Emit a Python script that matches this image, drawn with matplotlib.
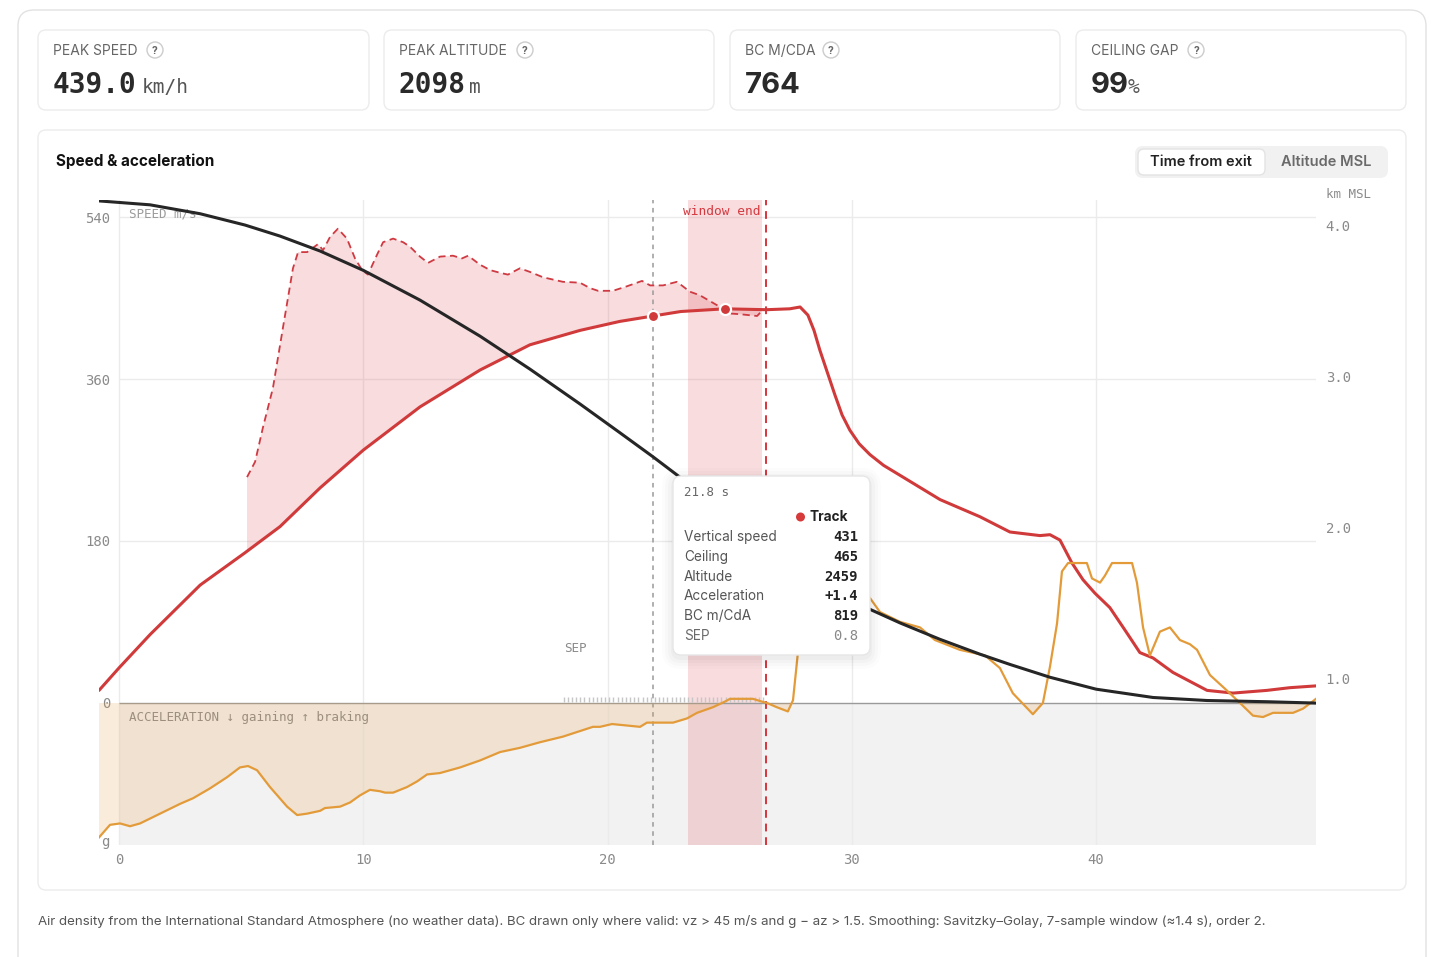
import matplotlib.pyplot as plt
import numpy as np
from matplotlib.patches import FancyBboxPatch, Circle

plt.rcParams['font.family'] = ['Inter', 'DejaVu Sans']
MONO = ['DejaVu Sans Mono']

# ---- data (time from exit in s) ----
speed_t = [-0.82, 0.0, 1.27, 3.32, 5.16, 6.59, 8.23, 10.0, 12.32, 14.78, 16.82, 18.87, 20.5,
           21.86, 23.0, 24.8, 26.5, 27.46, 27.88, 28.2, 28.45, 28.69, 29.0, 29.31, 29.6,
           29.92, 30.3, 30.74, 31.3, 31.97, 33.61, 35.24, 36.47, 37.7, 38.11, 38.52, 39.0,
           39.46, 39.95, 40.56, 41.18, 41.79, 42.33, 43.14, 44.54, 45.6, 46.99, 47.93, 49.0]
speed_kmh = [14, 39, 76, 131, 167, 196, 239, 281, 329, 370, 398, 414, 424,
             430, 435, 438, 437, 438, 440, 431, 414, 392, 367, 342, 320,
             303, 288, 276, 264, 253, 226, 207, 190, 186, 187, 181, 156,
             137, 122, 106, 81, 56, 50, 34, 14, 11, 14, 17, 19]

ceil_t = [5.24, 5.57, 5.89, 6.30, 6.71, 7.12, 7.33, 7.70, 8.15, 8.35, 8.64, 8.96, 9.33,
          9.66, 9.95, 10.19, 10.56, 10.81, 11.22, 11.63, 11.91, 12.32, 12.65, 13.14, 13.67,
          14.04, 14.29, 14.78, 15.19, 15.60, 15.92, 16.41, 16.82, 17.36, 18.17, 18.87, 19.28,
          19.61, 20.22, 20.79, 21.41, 21.74, 22.27, 22.84, 23.37, 23.78, 24.48, 24.89, 25.42,
          26.12, 26.36]
ceil_kmh = [251, 268, 306, 350, 417, 483, 501, 501, 510, 503, 518, 527, 516,
            494, 481, 476, 498, 512, 516, 512, 507, 496, 489, 496, 497,
            494, 497, 487, 481, 478, 476, 483, 479, 473, 468, 467, 461,
            458, 458, 463, 469, 464, 464, 468, 457, 453, 442, 433, 432,
            430, 437]

alt_t = [-0.82, 1.27, 3.32, 5.16, 6.59, 8.23, 10.0, 12.32, 14.78, 16.82, 18.87, 20.5,
         21.86, 22.88, 25.0, 27.0, 27.88, 28.69, 29.92, 30.74, 31.97, 33.61, 35.24, 36.47,
         38.11, 40.0, 42.33, 44.54, 46.99, 49.0]
alt_km = [4.16, 4.134, 4.075, 4.0, 3.927, 3.828, 3.70, 3.503, 3.264, 3.046, 2.815, 2.625,
          2.465, 2.34, 2.083, 1.84, 1.733, 1.639, 1.521, 1.455, 1.365, 1.256, 1.158, 1.09,
          1.005, 0.926, 0.871, 0.851, 0.843, 0.834]

acc_t = [-0.82, -0.37, 0.04, 0.45, 0.86, 1.68, 2.5, 3.03, 3.72, 4.42, 4.95, 5.28, 5.65,
         6.18, 6.88, 7.29, 7.7, 8.23, 8.43, 9.05, 9.46, 9.86, 10.27, 10.68, 10.89, 11.22,
         11.79, 12.2, 12.61, 13.14, 13.96, 14.78, 15.6, 16.41, 17.23, 18.17, 19.4, 19.69,
         20.18, 21.33, 21.61, 22.68, 23.25, 23.66, 24.31, 24.8, 25.01, 25.95, 26.32, 26.53,
         26.93, 27.38, 27.59, 27.75, 27.88, 28.3, 28.6, 29.5, 30.2, 30.74, 31.15, 31.97,
         32.79, 33.4, 34.42, 35.45, 36.06, 36.59, 37.41, 37.82, 38.11, 38.4, 38.6, 38.85,
         39.62, 39.83, 40.16, 40.36, 40.65, 41.47, 41.67, 41.92, 42.2, 42.61, 43.02, 43.43,
         43.84, 44.13, 44.66, 45.35, 45.89, 46.42, 46.83, 47.24, 48.06, 48.47, 49.0]
acc_g = [-0.96, -0.87, -0.86, -0.88, -0.86, -0.79, -0.72, -0.68, -0.61, -0.53, -0.46, -0.45, -0.48,
         -0.6, -0.74, -0.8, -0.79, -0.77, -0.75, -0.74, -0.71, -0.66, -0.62, -0.63, -0.64, -0.64,
         -0.6, -0.56, -0.51, -0.5, -0.46, -0.41, -0.35, -0.32, -0.28, -0.24, -0.17, -0.17,
         -0.15, -0.17, -0.14, -0.14, -0.11, -0.07, -0.03, 0.01, 0.03, 0.03, 0.01, 0.0,
         -0.03, -0.06, 0.02, 0.29, 0.52, 0.9, 1.0, 1.0, 0.85, 0.75, 0.65, 0.58,
         0.54, 0.45, 0.38, 0.34, 0.25, 0.07, -0.08, 0.0, 0.26, 0.57, 0.94, 1.0,
         1.0, 0.89, 0.86, 0.91, 1.0, 1.0, 0.86, 0.54, 0.34, 0.51, 0.54, 0.45,
         0.42, 0.38, 0.2, 0.09, 0.0, -0.09, -0.1, -0.07, -0.07, -0.04, 0.03]

cursor_t = 21.86
window = (23.29, 26.32)
window_end = 26.48
sep_span = (18.2, 26.4)
marker_t = [21.86, 24.8]
marker_kmh = [430, 438]

cards = [("PEAK SPEED", "439.0", "km/h"), ("PEAK ALTITUDE", "2098", "m"),
         ("BC M/CDA", "764", ""), ("CEILING GAP", "99", "%")]
tooltip_rows = [("Vertical speed", "431"), ("Ceiling", "465"), ("Altitude", "2459"),
                ("Acceleration", "+1.4"), ("BC m/CdA", "819"), ("SEP", "0.8")]

W, H = 1440, 957
fig = plt.figure(figsize=(14.4, 9.57), dpi=100)


def px_axes(z):
    a = fig.add_axes([0, 0, 1, 1], zorder=z)
    a.set_xlim(0, W)
    a.set_ylim(H, 0)
    a.axis('off')
    a.patch.set_alpha(0)
    return a


def rbox(a, x0, y0, x1, y1, r, fc='white', ec='#e8e8e8', lw=1.0, z=1, alpha=1.0):
    a.add_patch(FancyBboxPatch((x0, y0), x1 - x0, y1 - y0,
                               boxstyle=f"round,pad=0,rounding_size={r}",
                               fc=fc, ec=ec, lw=lw, zorder=z, alpha=alpha))


bg = px_axes(0)
rbox(bg, 18, 10, 1426, 1000, 16, ec='#e2e2e2')

# stat cards
card_x = [(38, 369), (384, 714), (730, 1060), (1076, 1406)]
q_x = [155, 525, 831, 1196]
unit_x = [142, 469, None, 1128]
for (x0, x1), qx, ux, (lab, val, unit) in zip(card_x, q_x, unit_x, cards):
    rbox(bg, x0, 30, x1, 110, 8, ec='#ececec')
    bg.text(x0 + 15, 51, lab, fontsize=10, color='#666666', va='center', ha='left')
    bg.add_patch(Circle((qx, 50), 8, fc='white', ec='#cccccc', lw=1, zorder=2))
    bg.text(qx, 50.5, "?", fontsize=7.5, color='#666666', ha='center', va='center',
            fontweight='bold', zorder=3)
    mono = val not in ("764", "99")
    bg.text(x0 + 15, 93, val, fontsize=20 if mono else 21, fontweight='bold', color='#2a2a2a',
            family=MONO if mono else None, va='baseline', ha='left')
    if unit:
        bg.text(ux, 93, unit, fontsize=14, color='#555555', family=MONO,
                va='baseline', ha='left')

# chart card
rbox(bg, 38, 130, 1406, 890, 8, ec='#ececec')
bg.text(56, 161, "Speed & acceleration", fontsize=11, fontweight='bold', color='#111111',
        va='center', ha='left')
rbox(bg, 1135, 146, 1388, 178, 8, fc='#f1f1f1', ec='none')
rbox(bg, 1138, 149, 1265, 175, 6, fc='white', ec='#e3e3e3')
bg.text(1201, 161.5, "Time from exit", fontsize=10.5, fontweight='semibold', color='#222222',
        ha='center', va='center')
bg.text(1326, 161.5, "Altitude MSL", fontsize=10.5, fontweight='semibold', color='#6a6a6a',
        ha='center', va='center')
bg.text(1326, 194, "km MSL", fontsize=9, color='#8a8a8a', family=MONO, ha='left', va='center')
bg.text(38, 921, "Air density from the International Standard Atmosphere (no weather data). "
        "BC drawn only where valid: vz > 45 m/s and g \u2212 az > 1.5. Smoothing: "
        "Savitzky\u2013Golay, 7-sample window (\u22481.4 s), order 2.",
        fontsize=9.57, color='#555555', ha='left', va='center')

# ---- main chart ----
x_lo, x_hi = -0.82, 49.0
spd_lo, spd_hi = -157.8, 558.9
ax = fig.add_axes([99 / W, 112 / H, (1316 - 99) / W, (845 - 200) / H], zorder=2)
ax.patch.set_alpha(0)
ax.set_xlim(x_lo, x_hi)
ax.set_ylim(spd_lo, spd_hi)
for s in ax.spines.values():
    s.set_visible(False)

ax.fill_between([0, x_hi], spd_lo, 0, color='#f2f2f2', lw=0, zorder=0)
for xv in [0, 10, 20, 30, 40]:
    ax.axvline(xv, color='#ebebeb', lw=1, zorder=0.5)
ax.hlines([180, 360, 540], 0, x_hi, color='#ebebeb', lw=1, zorder=0.5)
ax.hlines(0, 0, x_hi, color='#9a9a9a', lw=1, zorder=1.5)
ax.axvspan(*window, color='#dc505a', alpha=0.2, lw=0, zorder=1)
ax.axvline(cursor_t, color='#9a9a9a', lw=1.1, ls=(0, (3, 3)), zorder=3)
ax.axvline(window_end, color='#d8343c', lw=1.4, ls=(0, (4, 3)), zorder=3)
ax.text(window[1] - 0.05, 546, "window end", color='#d33a40', family=MONO, fontsize=9.3,
        ha='right', va='center')

# ceiling fill polygon between ceiling and speed
st = np.array(speed_t)
sv = np.array(speed_kmh)
inside = (st > ceil_t[0]) & (st < ceil_t[-1])
poly_t = np.r_[ceil_t, ceil_t[-1], st[inside][::-1], ceil_t[0]]
poly_v = np.r_[ceil_kmh, np.interp(ceil_t[-1], st, sv), sv[inside][::-1],
               np.interp(ceil_t[0], st, sv)]
ax.fill(poly_t, poly_v, color='#dc505a', alpha=0.2, lw=0, zorder=1)
ax.plot(ceil_t, ceil_kmh, color='#cf3a42', lw=1.3, ls=(0, (4, 2.5)), zorder=4)
ax.plot(speed_t, speed_kmh, color='#d03a3a', lw=2.2, zorder=4, solid_capstyle='round',
        solid_joinstyle='round')
ax.plot(marker_t, marker_kmh, 'o', ms=8, mfc='#d03a3a', mec='white', mew=1.6, zorder=6)

sep_x = np.arange(sep_span[0], sep_span[1], 0.17)
ax.vlines(sep_x, 0.8, 6.5, color='#c6c6c6', lw=1, zorder=2)
ax.text(18.67, 60, "SEP", color='#8a8a8a', family=MONO, fontsize=9, ha='center', va='center')
ax.text(0.41, 543, "SPEED m/s", color='#9a9a9a', family=MONO, fontsize=9, ha='left', va='center')
ax.text(0.41, -16, "ACCELERATION \u2193 gaining \u2191 braking", color='#8a8a8a', family=MONO,
        fontsize=9, ha='left', va='center', zorder=6)
ax.text(-0.57, -154, "g", color='#8a8a8a', family=MONO, fontsize=10, ha='center', va='center')

ax.set_xticks([0, 10, 20, 30, 40])
ax.set_xticklabels(['0', '10', '20', '30', '40'], family=MONO, fontsize=10, color='#8a8a8a')
ax.set_yticks([0, 180, 360, 540])
ax.set_yticklabels(['0', '180', '360', '540'], family=MONO, fontsize=10, color='#8a8a8a')
ax.tick_params(axis='x', length=0, pad=6)
ax.tick_params(axis='y', length=0, pad=-8)

# acceleration (g)
ax_acc = ax.twinx()
ax_acc.set_zorder(3)
ax_acc.patch.set_alpha(0)
ax_acc.set_ylim(-1.014, 3.593)
ax_acc.set_yticks([])
for s in ax_acc.spines.values():
    s.set_visible(False)
at = np.array(acc_t)
av = np.array(acc_g)
ax_acc.fill_between(at, av, 0, where=av < 0, interpolate=True, color='#e8a04a', alpha=0.2, lw=0)
ax_acc.plot(at, av, color='#e39b3a', lw=1.6, solid_joinstyle='round')

# altitude (km MSL)
ax_alt = ax.twinx()
ax_alt.set_zorder(4)
ax_alt.patch.set_alpha(0)
ax_alt.set_ylim(-0.106, 4.166)
for s in ax_alt.spines.values():
    s.set_visible(False)
ax_alt.plot(alt_t, alt_km, color='#262626', lw=2.2, solid_joinstyle='round')
ax_alt.set_yticks([1, 2, 3, 4])
ax_alt.set_yticklabels(['1.0', '2.0', '3.0', '4.0'], family=MONO, fontsize=10, color='#8a8a8a')
ax_alt.tick_params(axis='y', length=0, pad=7)

# ---- tooltip ----
top = px_axes(10)
for i, a_ in enumerate([0.025, 0.02, 0.015, 0.01]):
    p = 2 + i * 3
    rbox(top, 673 - p, 476 - p + 3, 870 + p, 655 + p + 3, 8 + p, fc='black', ec='none', alpha=a_)
rbox(top, 673, 476, 870, 655, 8, fc='white', ec='#e6e6e6', z=2)
top.text(684, 493, "21.8 s", family=MONO, fontsize=9, color='#666666', va='center', zorder=3)
top.add_patch(Circle((800.5, 517), 4.5, fc='#d63a3a', ec='none', zorder=3))
top.text(810, 517, "Track", fontsize=9.8, fontweight='bold', color='#222222', va='center', zorder=3)
for i, (lab, val) in enumerate(tooltip_rows):
    y = 537 + i * 19.8
    last = lab == "SEP"
    top.text(684, y, lab, fontsize=9.8, color='#6a6a6a' if last else '#555555',
             va='center', zorder=3)
    top.text(858, y, val, family=MONO, fontsize=10, fontweight='normal' if last else 'bold',
             color='#888888' if last else '#222222', ha='right', va='center', zorder=3)

fig.savefig('out.png', dpi=100)
